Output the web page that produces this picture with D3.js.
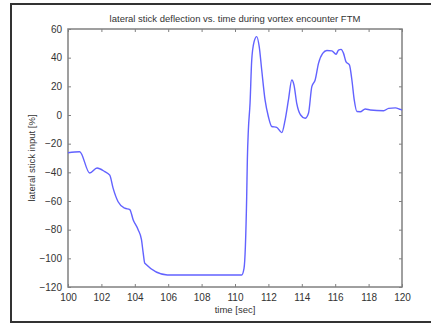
<!DOCTYPE html>
<html>
<head>
<meta charset="utf-8">
<script src="https://cdn.jsdelivr.net/npm/d3@7"></script>
<style>
  html, body { margin: 0; padding: 0; background: #fff; }
  svg { display: block; font-family: "Liberation Sans", Arial, sans-serif; }
</style>
</head>
<body>
<svg id="chart" width="431" height="324"></svg>
<script>
// Lateral stick input during the vortex encounter, time in seconds
const time = [100, 100.7, 101.3, 101.74, 102.2, 102.5, 102.7, 103.0, 103.4, 103.7, 103.9, 104.2, 104.4, 104.5, 104.6, 105.95,
  110.4, 110.54, 110.7, 110.74, 110.8, 110.9, 111.0, 111.14, 111.3, 111.45, 111.6, 111.8, 112.0, 112.2, 112.5, 112.8,
  113.0, 113.2, 113.4, 113.53, 113.7, 113.93, 114.2, 114.4, 114.6, 114.8, 115.0, 115.25, 115.5, 115.8, 116.05, 116.2,
  116.35, 116.5, 116.65, 116.85, 117.0, 117.14, 117.3, 117.5, 117.8, 118.1, 118.9, 119.2, 119.6, 119.9, 120];
const stickInput = [-26.3, -25.6, -40.5, -37, -39.5, -42, -51, -60.5, -65, -66, -73, -80, -87, -96, -103.5, -111.6,
  -111.6, -107, -57, -31, -10.5, 8, 38, 51, 54.7, 47.7, 31.4, 10.5, -1.2, -8, -8.6, -12.3,
  -3.5, 10.5, 24.4, 21, 8, 0, -2.3, 1.2, 19.8, 24.4, 36, 43, 45, 44.7, 42.4, 45.3,
  45.8, 43, 37, 35, 24.4, 10.5, 2.4, 2.3, 4.2, 3.5, 3, 4.6, 5, 3.9, 3.5];
const xTicks = [100, 102, 104, 106, 108, 110, 112, 114, 116, 118, 120];
const yTicks = [-120, -100, -80, -60, -40, -20, 0, 20, 40, 60];

const titleText = "lateral stick deflection vs. time during vortex encounter FTM";
const xLabel = "time [sec]";
const yLabel = "lateral stick input [%]";

const svg = d3.select("#chart");
const W = 431;
const plot = { left: 68, top: 29, right: 402, bottom: 287 };

// figure frame
svg.append("rect").attr("x", 11).attr("y", 4).attr("width", W + 10).attr("height", 318)
  .attr("fill", "#fff").attr("stroke", "#333").attr("stroke-width", 2);

const x = d3.scaleLinear().domain([100, 120]).range([plot.left, plot.right]);
const y = d3.scaleLinear().domain([-120, 60]).range([plot.bottom, plot.top]);

const axisColor = "#808080";
const textColor = "#333";
const tickLen = 3;

// plot box
svg.append("rect").attr("x", plot.left).attr("y", plot.top)
  .attr("width", plot.right - plot.left).attr("height", plot.bottom - plot.top)
  .attr("fill", "#fff").attr("stroke", axisColor).attr("stroke-width", 1.5);

function styleAxis(g, showLabels) {
  g.select(".domain").remove();
  g.selectAll(".tick line").attr("stroke", axisColor).attr("stroke-width", 1);
  g.selectAll(".tick text").attr("fill", textColor).attr("font-size", 10)
    .attr("font-family", "Liberation Sans, Arial, sans-serif");
  if (!showLabels) g.selectAll(".tick text").remove();
}

// ticks pointing into the box on all four sides
svg.append("g").attr("transform", `translate(0,${plot.bottom})`)
  .call(d3.axisBottom(x).tickValues(xTicks).tickSize(-tickLen).tickPadding(7).tickFormat(d3.format("d")))
  .call(g => styleAxis(g, true));
svg.append("g").attr("transform", `translate(0,${plot.top})`)
  .call(d3.axisTop(x).tickValues(xTicks).tickSize(-tickLen))
  .call(g => styleAxis(g, false));
svg.append("g").attr("transform", `translate(${plot.left},0)`)
  .call(d3.axisLeft(y).tickValues(yTicks).tickSize(-tickLen).tickPadding(6).tickFormat(d3.format("d")))
  .call(g => styleAxis(g, true));
svg.append("g").attr("transform", `translate(${plot.right},0)`)
  .call(d3.axisRight(y).tickValues(yTicks).tickSize(-tickLen))
  .call(g => styleAxis(g, false));

// data line
const line = d3.line().x((d, i) => x(time[i])).y(d => y(d)).curve(d3.curveMonotoneX);
svg.append("path").datum(stickInput).attr("d", line)
  .attr("fill", "none").attr("stroke", "#6262ff").attr("stroke-width", 1.4)
  .attr("stroke-linejoin", "round");

// title and axis labels
svg.append("text").attr("x", (plot.left + plot.right) / 2).attr("y", 22)
  .attr("text-anchor", "middle").attr("font-size", 9.5).attr("fill", textColor).text(titleText);
svg.append("text").attr("x", (plot.left + plot.right) / 2).attr("y", 313)
  .attr("text-anchor", "middle").attr("font-size", 9.5).attr("fill", textColor).text(xLabel);
svg.append("text").attr("transform", `translate(35,${(plot.top + plot.bottom) / 2}) rotate(-90)`)
  .attr("text-anchor", "middle").attr("font-size", 9.5).attr("fill", textColor).text(yLabel);
</script>
</body>
</html>
